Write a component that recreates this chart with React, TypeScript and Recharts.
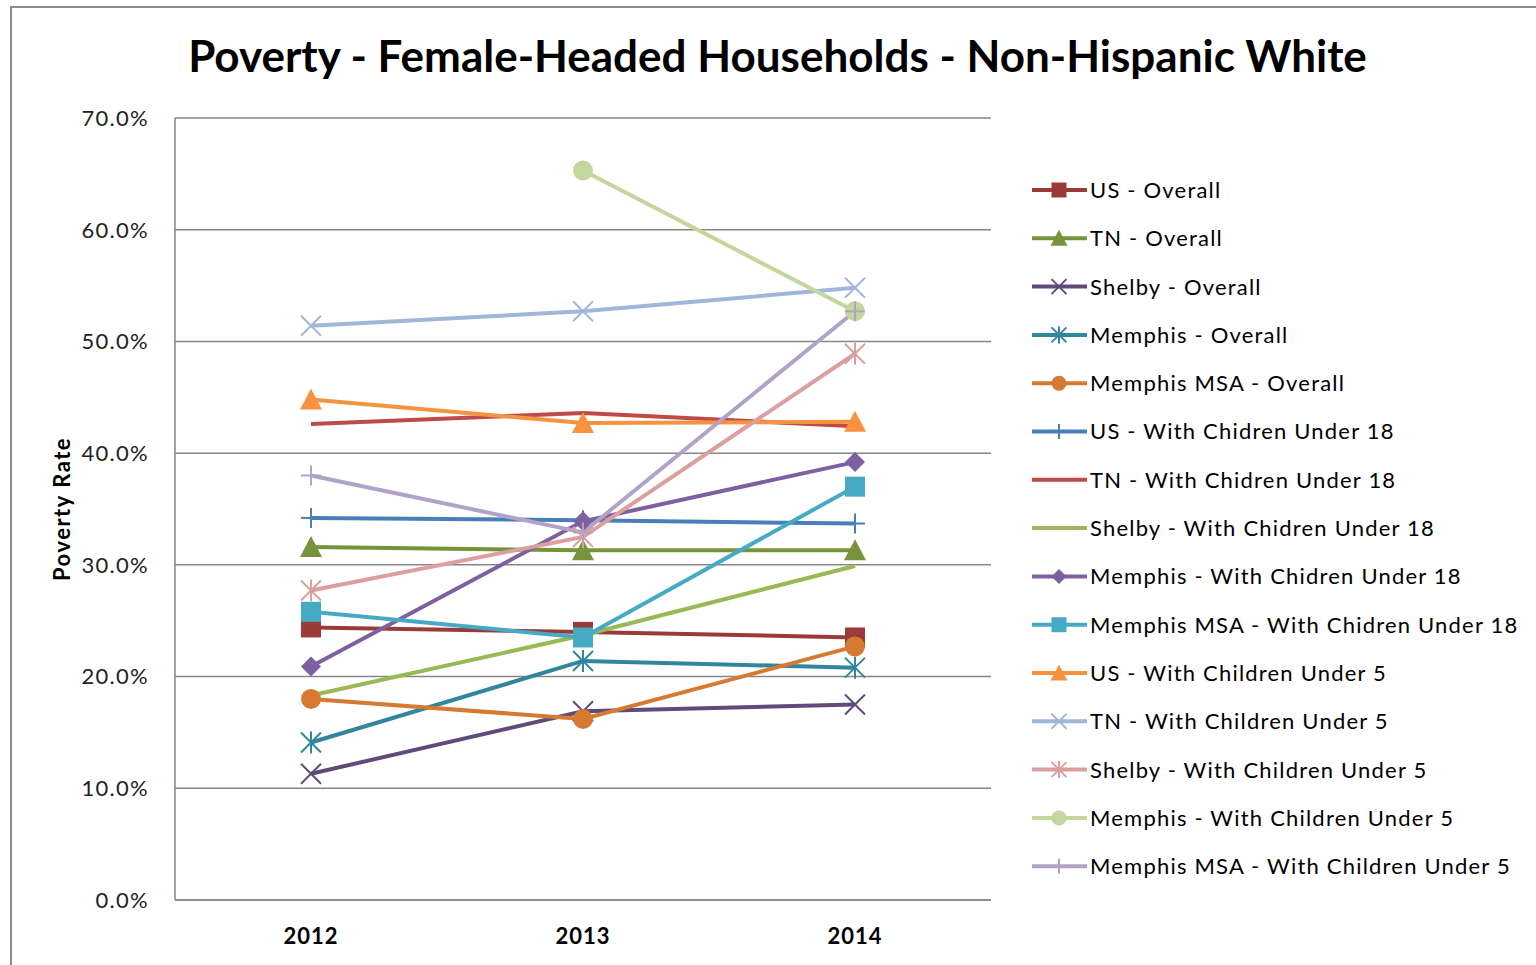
import React from 'react'
import { CartesianGrid, Legend, Line, LineChart, XAxis, YAxis } from 'recharts'

const years = ['2012', '2013', '2014']

const usOverall = [24.4, 24.0, 23.5]
const tnOverall = [31.6, 31.3, 31.3]
const shelbyOverall = [11.3, 16.9, 17.5]
const memphisOverall = [14.1, 21.4, 20.8]
const msaOverall = [18.0, 16.2, 22.7]
const usUnder18 = [34.2, 34.0, 33.7]
const tnUnder18 = [42.6, 43.6, 42.4]
const shelbyUnder18 = [18.3, 23.7, 29.9]
const memphisUnder18 = [20.9, 33.9, 39.2]
const msaUnder18 = [25.8, 23.5, 37.0]
const usUnder5 = [44.8, 42.7, 42.8]
const tnUnder5 = [51.4, 52.7, 54.8]
const shelbyUnder5 = [27.7, 32.5, 48.9]
const memphisUnder5 = [null, 65.3, 52.7]
const msaUnder5 = [38.0, 32.9, 52.7]

const yTicks = [0, 10, 20, 30, 40, 50, 60, 70]

type Shape = 'square' | 'triangle' | 'x' | 'star' | 'circle' | 'plus' | 'diamond' | 'none'

const series: { name: string; values: (number | null)[]; color: string; shape: Shape }[] = [
  { name: 'US - Overall', values: usOverall, color: '#9B3B39', shape: 'square' },
  { name: 'TN - Overall', values: tnOverall, color: '#77933C', shape: 'triangle' },
  { name: 'Shelby - Overall', values: shelbyOverall, color: '#604A7B', shape: 'x' },
  { name: 'Memphis - Overall', values: memphisOverall, color: '#31859C', shape: 'star' },
  { name: 'Memphis MSA - Overall', values: msaOverall, color: '#D57A30', shape: 'circle' },
  { name: 'US - With Chidren Under 18', values: usUnder18, color: '#4A7EBB', shape: 'plus' },
  { name: 'TN - With Chidren Under 18', values: tnUnder18, color: '#BE4B48', shape: 'none' },
  { name: 'Shelby - With Chidren Under 18', values: shelbyUnder18, color: '#98B954', shape: 'none' },
  { name: 'Memphis - With Chidren Under 18', values: memphisUnder18, color: '#7D60A0', shape: 'diamond' },
  { name: 'Memphis MSA - With Chidren Under 18', values: msaUnder18, color: '#46AAC5', shape: 'square' },
  { name: 'US - With Children Under 5', values: usUnder5, color: '#F69240', shape: 'triangle' },
  { name: 'TN - With Children Under 5', values: tnUnder5, color: '#A2B6DA', shape: 'x' },
  { name: 'Shelby - With Children Under 5', values: shelbyUnder5, color: '#DBA09E', shape: 'star' },
  { name: 'Memphis - With Children Under 5', values: memphisUnder5, color: '#C3D69B', shape: 'circle' },
  { name: 'Memphis MSA - With Children Under 5', values: msaUnder5, color: '#B3A2C7', shape: 'plus' },
]

const data = years.map((year, i) => {
  const row: Record<string, any> = { year }
  series.forEach((s, k) => {
    row['s' + k] = s.values[i]
  })
  return row
})

const FONT = 'Lato, "Liberation Sans", sans-serif'

function marker(shape: Shape, color: string, cx: number, cy: number, size: number, key?: any) {
  const h = size / 2
  switch (shape) {
    case 'square':
      return <rect key={key} x={cx - h} y={cy - h} width={size} height={size} fill={color} />
    case 'triangle':
      return (
        <polygon
          key={key}
          points={`${cx},${cy - h - 1} ${cx + h + 1},${cy + h} ${cx - h - 1},${cy + h}`}
          fill={color}
        />
      )
    case 'circle':
      return <circle key={key} cx={cx} cy={cy} r={h} fill={color} />
    case 'diamond':
      return (
        <polygon key={key} points={`${cx},${cy - h} ${cx + h},${cy} ${cx},${cy + h} ${cx - h},${cy}`} fill={color} />
      )
    case 'x':
      return (
        <g key={key} stroke={color} strokeWidth={2}>
          <line x1={cx - h} y1={cy - h} x2={cx + h} y2={cy + h} />
          <line x1={cx - h} y1={cy + h} x2={cx + h} y2={cy - h} />
        </g>
      )
    case 'star':
      return (
        <g key={key} stroke={color} strokeWidth={2}>
          <line x1={cx - h} y1={cy - h} x2={cx + h} y2={cy + h} />
          <line x1={cx - h} y1={cy + h} x2={cx + h} y2={cy - h} />
          <line x1={cx} y1={cy - h - 1} x2={cx} y2={cy + h + 1} />
        </g>
      )
    case 'plus':
      return (
        <g key={key} stroke={color} strokeWidth={2}>
          <line x1={cx - h} y1={cy} x2={cx + h} y2={cy} />
          <line x1={cx} y1={cy - h} x2={cx} y2={cy + h} />
        </g>
      )
    default:
      return <g key={key} />
  }
}

const dotFor = (shape: Shape, color: string) => (props: any) => {
  const { cx, cy, index, value } = props
  if (shape === 'none' || cx == null || cy == null || value == null) return <g key={index} />
  return marker(shape, color, cx, cy, 20, index)
}

function LegendBox() {
  const rowGap = 48.3
  return (
    <svg width={506} height={730} style={{ overflow: 'visible' }}>
      {series.map((s, i) => {
        const y = 24 + rowGap * i
        return (
          <g key={s.name}>
            <line x1={2} y1={y} x2={57} y2={y} stroke={s.color} strokeWidth={4} />
            {marker(s.shape, s.color, 29, y, 15)}
            <text
              x={60}
              y={y}
              dy="0.36em"
              fontSize={22}
              letterSpacing={1.2}
              fontFamily={FONT}
              fill="#000"
            >
              {s.name}
            </text>
          </g>
        )
      })}
    </svg>
  )
}

export default function App() {
  return (
    <div
      style={{
        position: 'absolute',
        left: 0,
        top: 0,
        width: 1536,
        height: 965,
        overflow: 'hidden',
        background: '#fff',
        fontFamily: FONT,
      }}
    >
      <div
        style={{
          position: 'absolute',
          left: 10,
          top: 6,
          width: 1560,
          height: 1000,
          border: '2px solid #8c8c8c',
        }}
      />
      <div
        style={{
          position: 'absolute',
          left: 0,
          top: 29,
          width: 1555,
          textAlign: 'center',
          fontSize: 44,
          fontWeight: 'bold',
          color: '#000',
        }}
      >
        Poverty - Female-Headed Households - Non-Hispanic White
      </div>
      <div style={{ position: 'absolute', left: 0, top: 0 }}>
        <LineChart width={1536} height={965} data={data} margin={{ top: 118, left: 55, right: 545, bottom: 35 }}>
          <CartesianGrid vertical={false} stroke="#868686" strokeWidth={1.5} />
          <XAxis
            dataKey="year"
            height={30}
            padding={{ left: 136, right: 136 }}
            axisLine={{ stroke: '#868686', strokeWidth: 1.5 }}
            tickLine={false}
            tickSize={0}
            tickMargin={28}
            tick={{ fontSize: 22, fontWeight: 'bold', fill: '#000', fontFamily: FONT, letterSpacing: 1 }}
          />
          <YAxis
            width={120}
            domain={[0, 70]}
            ticks={yTicks}
            interval={0}
            axisLine={{ stroke: '#868686', strokeWidth: 1.5 }}
            tickLine={false}
            tickSize={0}
            tickMargin={26}
            tickFormatter={(v: number) => v.toFixed(1) + '%'}
            tick={{ fontSize: 22, fill: '#222', fontFamily: FONT, letterSpacing: 1.3 }}
            label={{
              value: 'Poverty Rate',
              angle: -90,
              position: 'insideLeft',
              offset: 7,
              style: {
                textAnchor: 'middle',
                fontSize: 22,
                fontWeight: 'bold',
                fill: '#000',
                fontFamily: FONT,
                letterSpacing: 1.5,
              },
            }}
          />
          <Legend
            layout="horizontal"
            verticalAlign="middle"
            align="center"
            wrapperStyle={{ position: 'absolute', left: 1030, top: 166, width: 506, height: 730 }}
            content={() => <LegendBox />}
          />
          {series.map((s, k) => (
            <Line
              key={s.name}
              dataKey={'s' + k}
              name={s.name}
              stroke={s.color}
              strokeWidth={4}
              dot={dotFor(s.shape, s.color)}
              activeDot={false}
              isAnimationActive={false}
            />
          ))}
        </LineChart>
      </div>
    </div>
  )
}
